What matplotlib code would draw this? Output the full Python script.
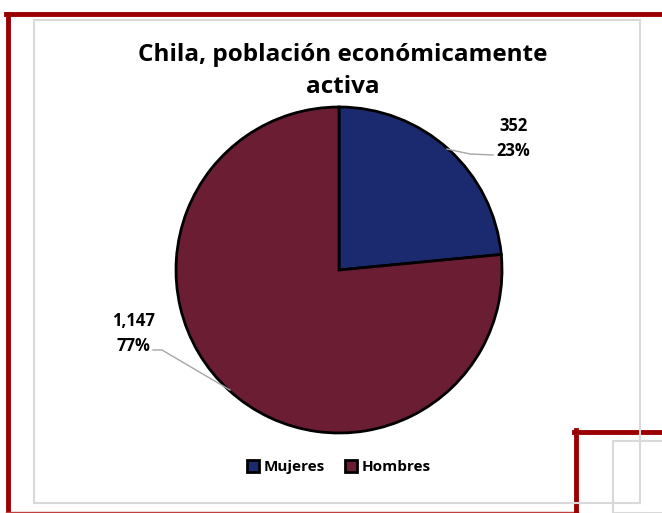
import matplotlib.pyplot as plt
from matplotlib.lines import Line2D
from matplotlib.patches import Rectangle

# data
categorias = ['Mujeres', 'Hombres']
valores = [352, 1147]
colores = ['#1b2a6e', '#6b1d33']
titulo = 'Chila, población económicamente\nactiva'

plt.rcParams['font.family'] = ['Open Sans', 'DejaVu Sans']

W, H = 662, 513
fig = plt.figure(figsize=(W / 100, H / 100), dpi=100)
fig.patch.set_facecolor('white')

# decorative frame (pixel coords, y from top)
def fline(x0, y0, x1, y1, color, lw):
    fig.add_artist(Line2D([x0 / W, x1 / W], [1 - y0 / H, 1 - y1 / H],
                          color=color, lw=lw, transform=fig.transFigure, zorder=-1))

red = '#9b0000'
fline(7.5, 14, 7.5, 513, red, 3.5)
fline(6, 14, 662, 14, red, 3.5)
fline(6, 512, 578, 512, '#c04040', 1)
fline(576, 430, 576, 513, red, 3.5)
fline(574, 432, 662, 432, red, 3.5)
fig.add_artist(Rectangle((613 / W, 0), 60 / W, 1 - 441 / H, transform=fig.transFigure,
                         facecolor='white', edgecolor='#d9d9d9', lw=1.5, zorder=-1))
fig.add_artist(Rectangle((34 / W, 1 - 503 / H), 606 / W, 483 / H, transform=fig.transFigure,
                         facecolor='none', edgecolor='#d9d9d9', lw=1.5, zorder=-1))

ax = fig.add_axes([0, 0, 1, 1])
ax.set_facecolor('none')
total = sum(valores)
cx, cy, r = 339, H - 270, 163
wedges, _ = ax.pie(valores, colors=colores, startangle=90, counterclock=False,
                   center=(cx, cy), radius=r,
                   wedgeprops=dict(edgecolor='black', linewidth=2))
ax.set_xlim(0, W)
ax.set_ylim(0, H)
ax.set_aspect('equal')
ax.axis('off')

etiquetas = [f'{v:,}\n{round(v / total * 100)}%' for v in valores]
lbl = dict(fontsize=12, fontweight='bold', ha='center', va='center', linespacing=1.45)
ax.text(513, H - 138.5, etiquetas[0], **lbl)
ax.text(133, H - 333.5, etiquetas[1], **lbl)
ax.plot([447, 470, 493], [H - 149, H - 154, H - 155], color='#a6a6a6', lw=1)
ax.plot([153, 162, 230], [H - 350, H - 350, H - 390], color='#a6a6a6', lw=1)

fig.text(343 / W, 1 - 71 / H, titulo, fontsize=17.5, fontweight='bold',
         ha='center', va='center', linespacing=1.4)

leg = ax.legend(wedges, categorias, loc='center', bbox_to_anchor=(339 / W, 1 - 467 / H),
                ncol=2, frameon=False, prop=dict(size=11, weight='bold'),
                handlelength=0.8, handleheight=0.8, handletextpad=0.3, columnspacing=1.3)

fig.savefig('out.png', dpi=100)
